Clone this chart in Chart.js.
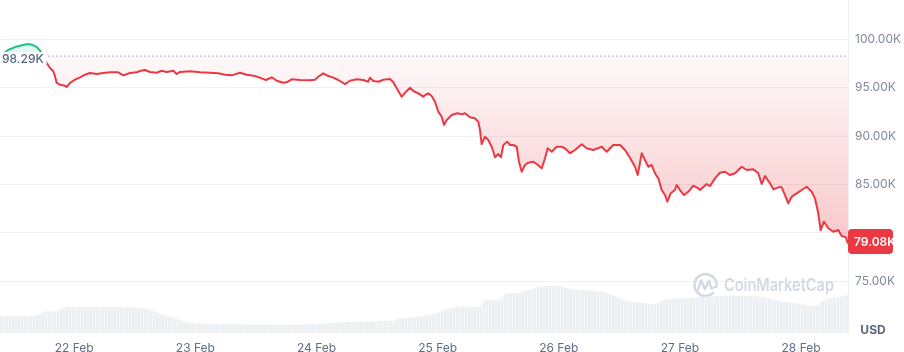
<!DOCTYPE html>
<html><head><meta charset="utf-8">
<script src="https://cdn.jsdelivr.net/npm/chart.js@4.4.1/dist/chart.umd.min.js"></script>
<style>html,body{margin:0;padding:0;background:#fff}#wrap{width:904px;height:352px;position:relative}</style>
</head><body><div id="wrap"><canvas id="c" width="904" height="352"></canvas></div>
<script>
// hours counted from 21 Feb 00:00
const priceHours = [9.3,10.88,12.27,13.86,14.85,15.84,16.63,17.42,
17.88,18.55,19.21,19.86,20.2,20.53,21.19,22.18,22.51,23.17,
24.16,25.15,26.14,27.13,28.46,29.77,31.09,32.74,33.73,35.05,
36.38,37.04,38.03,39.02,40.34,41.33,42.33,43.63,44.31,44.96,
46.94,48.92,50.9,52.55,53.88,55.2,56.85,58.17,59.82,61.14,
62.0,63.13,64.12,65.43,66.1,67.09,68.73,70.71,71.7,72.36,
73.35,74.34,75.33,76.32,77.65,78.64,79.97,81.27,82.26,82.6,
83.25,84.25,85.24,86.56,87.22,87.89,88.88,89.73,90.53,91.18,
92.17,93.16,93.5,94.15,94.82,95.48,96.13,96.81,97.26,97.8,
98.79,99.9,100.77,101.42,102.41,103.4,104.06,104.39,104.73,105.38,
106.04,106.71,107.37,108.02,108.55,109.01,109.8,110.34,111.0,111.66,
112.12,112.65,113.31,113.96,114.95,115.62,116.62,117.27,117.81,118.6,
119.59,120.58,121.23,122.22,123.21,124.54,125.53,126.84,128.5,129.49,
130.8,132.13,133.12,134.11,135.1,135.64,136.43,137.08,137.74,138.41,
139.06,139.72,140.39,141.05,141.5,142.17,143.02,143.36,144.01,144.81,
145.66,146.65,147.64,147.98,149.3,149.96,150.95,151.94,152.93,153.92,
154.91,156.24,157.23,158.54,159.53,160.2,160.86,161.85,162.5,163.49,
164.16,164.82,165.47,166.14,167.13,168.12,169.11,170.1,170.75,171.41,
171.88,172.54,173.39,174.38,175.37,176.05,176.9,177.24,177.3];
// price in thousands of USD
const priceValues = [98.29,98.91,99.22,99.43,99.53,99.43,99.22,98.71,
98.26,97.57,97.05,96.71,96.19,95.50,95.32,95.22,95.08,95.50,
95.84,96.09,96.36,96.53,96.43,96.53,96.60,96.60,96.29,96.53,
96.60,96.74,96.84,96.64,96.56,96.77,96.64,96.77,96.43,96.64,
96.71,96.60,96.56,96.50,96.36,96.29,96.56,96.36,96.22,95.98,
95.81,96.09,95.73,95.53,95.57,95.88,95.81,95.78,95.84,96.15,
96.50,96.22,96.05,95.81,95.39,95.73,95.88,95.81,95.63,96.05,
95.70,95.63,95.84,95.91,95.57,94.95,94.08,94.60,95.01,94.67,
94.43,94.08,94.25,94.43,94.15,93.56,92.53,92.01,91.15,91.67,
92.18,92.36,92.26,92.36,91.95,91.84,91.49,90.63,89.18,89.94,
89.60,88.90,87.81,88.15,87.81,89.08,89.42,89.08,89.08,88.90,
87.35,86.31,87.01,87.25,87.35,87.11,86.67,87.70,88.74,88.39,
88.90,88.90,88.74,88.22,88.56,89.15,88.74,88.56,88.90,88.39,
89.08,89.08,88.56,87.76,86.83,85.97,88.22,87.53,86.83,87.01,
86.15,85.63,84.42,83.90,83.21,84.08,84.42,84.94,84.42,83.90,
84.24,84.87,84.60,84.42,85.04,84.83,85.63,86.21,86.31,85.97,
86.15,86.83,86.49,86.56,86.15,85.04,85.87,85.11,84.49,84.70,
84.70,83.90,83.04,83.73,84.08,84.42,84.76,84.24,83.56,82.01,
80.28,81.14,80.46,80.10,80.28,79.66,79.52,78.93,79.08];
const volumeHours = [9.3,13.26,16.63,17.62,20.79,21.78,25.15,31.09,37.63,39.61,41.99,43.97,46.35,48.92,58.83,68.73,75.27,78.64,87.16,88.54,92.51,96.47,98.45,101.42,104.39,105.38,108.36,109.35,112.32,115.29,118.26,120.24,123.21,128.17,131.14,133.12,136.09,139.06,141.04,145.99,151.94,159.86,163.83,167.79,170.76,172.74,175.31,177.3];
// relative volume (billions USD, estimated)
const volumeValues = [1.7,1.7,1.75,2.1,2.2,2.55,2.6,2.6,2.5,2.2,1.8,1.5,1.05,0.95,0.85,0.85,1.0,1.1,1.25,1.45,1.65,2.1,2.5,2.65,2.65,3.25,3.35,3.9,4.05,4.5,4.75,4.65,4.35,4.15,3.7,3.25,3.05,2.9,3.35,3.5,3.7,3.65,3.2,2.9,2.75,3.3,3.6,3.8];
const tickHours = [24,48,72,96,120,144,168];
const tickLabels = ['22 Feb','23 Feb','24 Feb','25 Feb','26 Feb','27 Feb','28 Feb'];
const yTickValues = [75,80,85,90,95,100];
const openPrice = 98.29;
const lastPrice = 79.08;

const GREEN = '#16c784', RED = '#ea3943';

function stripePattern(){
  const c = document.createElement('canvas'); c.width = 3; c.height = 1;
  const g = c.getContext('2d');
  g.fillStyle = '#edf0f3'; g.fillRect(0,0,3,1);
  g.fillStyle = '#f3f5f7'; g.fillRect(2,0,1,1);
  return g.createPattern(c,'repeat');
}

const zeroPad = s => { s.paddingTop = 0; s.paddingBottom = 0; s.paddingLeft = 0; s.paddingRight = 0; };

const overlay = {
  id: 'overlay',
  beforeDatasetsDraw(chart){
    const {ctx} = chart;
    ctx.save();
    // watermark
    ctx.strokeStyle = '#d3d9e3'; ctx.lineWidth = 2.4; ctx.lineCap = 'round'; ctx.lineJoin = 'round';
    ctx.beginPath(); ctx.arc(705.5, 285, 11, 0.25*Math.PI, 2.05*Math.PI); ctx.stroke();
    ctx.beginPath();
    ctx.moveTo(698, 290); ctx.lineTo(701, 280.5); ctx.lineTo(705, 289); ctx.lineTo(709, 280.5); ctx.lineTo(711.5, 288.5); ctx.lineTo(715, 287);
    ctx.stroke();
    ctx.fillStyle = '#d3d9e3';
    ctx.font = '600 17px Inter';
    ctx.textBaseline = 'alphabetic'; ctx.textAlign = 'left';
    const text = 'CoinMarketCap';
    const tw = ctx.measureText(text).width;
    ctx.translate(724, 291);
    ctx.scale(110 / tw, 1);
    ctx.fillText(text, 0, 0);
    ctx.restore();
  },
  afterDatasetsDraw(chart){
    const {ctx, chartArea, scales} = chart;
    const yb = scales.y.getPixelForValue(openPrice);
    ctx.save();
    ctx.strokeStyle = '#a1a7bb'; ctx.lineWidth = 1.2; ctx.setLineDash([1.3, 2.7]);
    ctx.beginPath(); ctx.moveTo(chartArea.left, yb); ctx.lineTo(chartArea.right, yb); ctx.stroke();
    ctx.setLineDash([]);
    ctx.font = '500 12px Inter';
    const label = openPrice.toFixed(2) + 'K';
    const w = ctx.measureText(label).width;
    ctx.fillStyle = '#ffffff';
    ctx.fillRect(chartArea.left, yb - 4, w + 5, 12);
    ctx.fillStyle = '#58667e'; ctx.textBaseline = 'middle'; ctx.textAlign = 'left';
    ctx.fillText(label, chartArea.left + 2, yb + 3);
    ctx.restore();
  },
  afterDraw(chart){
    const {ctx, chartArea, scales} = chart;
    const yl = scales.y.getPixelForValue(lastPrice);
    ctx.save();
    ctx.fillStyle = RED;
    ctx.beginPath();
    ctx.roundRect(chartArea.right, yl - 12.5, 45, 25, 4);
    ctx.fill();
    ctx.fillStyle = '#ffffff'; ctx.font = '600 12px Inter';
    ctx.textBaseline = 'middle'; ctx.textAlign = 'left';
    ctx.fillText(lastPrice.toFixed(2) + 'K', chartArea.right + 6, yl + 0.5);
    ctx.fillStyle = '#58667e'; ctx.font = '700 12px Inter'; ctx.textAlign = 'center';
    ctx.fillText('USD', 873, 330);
    ctx.restore();
  }
};

new Chart(document.getElementById('c'), {
  data: {
    datasets: [
      {
        type: 'line',
        data: priceHours.map((h, i) => ({x: h, y: priceValues[i]})),
        yAxisID: 'y',
        borderWidth: 2,
        pointRadius: 0,
        tension: 0,
        borderJoinStyle: 'round',
        borderColor(ctx){
          const {chart} = ctx; const a = chart.chartArea;
          if (!a) return RED;
          const f = Math.min(1, Math.max(0, (chart.scales.y.getPixelForValue(openPrice) - a.top) / (a.bottom - a.top)));
          const g = chart.ctx.createLinearGradient(0, a.top, 0, a.bottom);
          g.addColorStop(0, GREEN); g.addColorStop(f, GREEN);
          g.addColorStop(f, RED); g.addColorStop(1, RED);
          return g;
        },
        backgroundColor(ctx){
          const {chart} = ctx; const a = chart.chartArea;
          if (!a) return 'rgba(234,57,67,0.1)';
          const y0 = chart.scales.y.getPixelForValue(openPrice);
          const y1 = chart.scales.y.getPixelForValue(lastPrice);
          const g = chart.ctx.createLinearGradient(0, y0, 0, y1);
          g.addColorStop(0, 'rgba(234,57,67,0.03)');
          g.addColorStop(1, 'rgba(234,57,67,0.28)');
          return g;
        },
        fill: {target: {value: openPrice}, above: 'rgba(22,199,132,0.12)'}
      },
      {
        type: 'line',
        data: volumeHours.map((h, i) => ({x: h, y: volumeValues[i]})),
        yAxisID: 'yv',
        borderWidth: 0,
        pointRadius: 0,
        tension: 0.35,
        backgroundColor: stripePattern(),
        fill: 'origin'
      }
    ]
  },
  options: {
    responsive: false,
    animation: false,
    devicePixelRatio: 1,
    layout: {padding: 0},
    plugins: {legend: {display: false}, tooltip: {enabled: false}},
    scales: {
      x: {
        type: 'linear', min: 9.3, max: 177.3,
        grid: {display: false, drawTicks: false},
        border: {display: false},
        afterBuildTicks(s){ s.ticks = tickHours.map(v => ({value: v})); },
        afterFit(s){ s.height = 19; zeroPad(s); },
        ticks: {
          padding: 8, maxRotation: 0, autoSkip: false,
          color: '#616e85', font: {family: 'Inter', size: 12},
          callback(v){ const i = tickHours.indexOf(v); return i >= 0 ? tickLabels[i] : ''; }
        }
      },
      y: {
        type: 'linear', position: 'right', min: 69.62, max: 104.09,
        grid: {color: '#eff2f5', lineWidth: 1, drawTicks: false},
        border: {display: true, color: '#eff2f5'},
        afterBuildTicks(s){ s.ticks = yTickValues.map(v => ({value: v})); },
        afterFit(s){ s.width = 56; zeroPad(s); },
        ticks: {
          padding: 7, color: '#808a9d', font: {family: 'Inter', size: 12},
          // the 80K label sits under the current-price badge
          callback(v){ return Math.abs(v - lastPrice) < 2 ? '' : v.toFixed(2) + 'K'; }
        }
      },
      yv: {
        type: 'linear', display: false, min: 0, max: 33.3
      }
    }
  },
  plugins: [overlay]
});
</script>
</body></html>
